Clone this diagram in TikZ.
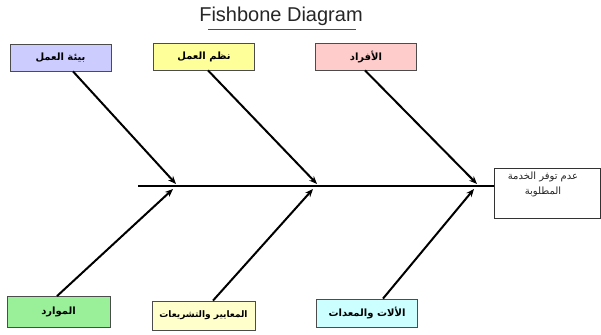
\documentclass[tikz,border=0pt]{standalone}
\usepackage{fontspec}
\setmainfont{Liberation Sans}
\newfontfamily\arabicfont[Script=Arabic]{DejaVu Sans}
\TeXXeTstate=1
\usetikzlibrary{arrows.meta, calc}

\definecolor{envfill}{RGB}{204,204,255}
\definecolor{methodfill}{RGB}{255,255,153}
\definecolor{peoplefill}{RGB}{255,204,204}
\definecolor{resourcefill}{RGB}{153,240,153}
\definecolor{standardfill}{RGB}{255,255,204}
\definecolor{machinefill}{RGB}{204,255,255}

\tikzset{
  causebox/.style={draw=black!70, line width=0.8pt, minimum width=101pt, minimum height=27pt, inner sep=0pt, font=\arabicfont\bfseries\fontsize{10}{12}\selectfont},
  bone/.style={->, line width=2pt},
}

\begin{document}
\begin{tikzpicture}[x=1pt, y=-1pt, >={Stealth[length=8pt, width=6.5pt]}]
  \useasboundingbox (0,0) rectangle (601,334);
  \node[font=\fontsize{20}{22}\selectfont, text=black!85, inner sep=0pt] (title) at (281,16) {Fishbone Diagram};
  \draw[black!70, line width=0.7pt] ($(title.south west)+(9,4)$) -- ($(title.south east)+(-7,4)$);
  % causes above and below the spine
  \node[causebox, fill=envfill] (environment) at (60.5,57.5) {\beginR بيئة العمل\endR};
  \node[causebox, fill=methodfill] (methods) at (204,56.5) {\beginR نظم العمل\endR};
  \node[causebox, fill=peoplefill] (people) at (366,56.5) {\beginR الأفراد\endR};
  \node[causebox, fill=resourcefill, minimum width=103pt, minimum height=31pt] (resources) at (58.5,312) {\beginR الموارد\endR};
  \node[causebox, fill=standardfill, minimum width=103pt, minimum height=29pt, font=\arabicfont\bfseries\fontsize{9}{11}\selectfont] (standards) at (203.5,315.5) {\beginR المعايير والتشريعات\endR};
  \node[causebox, fill=machinefill, minimum height=28pt] (machines) at (367,313) {\beginR الألات والمعدات\endR};
  % effect
  \node[draw=black!80, line width=0.8pt, minimum width=106pt, minimum height=50pt, inner sep=0pt] (problem) at (547,193) {};
  \node[font=\arabicfont\fontsize{10}{15}\selectfont, text=black!85, align=center, anchor=north] (problemtext) at ($(problem.north)+(-4,1)$) {\beginR عدم توفر الخدمة\endR\\\beginR المطلوبة\endR};
  % spine
  \coordinate (spinestart) at (138,186);
  \draw[line width=2.6pt] (spinestart) -- (spinestart -| problem.west);
  \coordinate (tipA) at (176,184);
  \coordinate (tipB) at (317,184);
  \coordinate (tipC) at (477,184);
  \coordinate (tipD) at (173,189);
  \coordinate (tipE) at (313,189);
  \coordinate (tipF) at (474,189);
  \draw[bone] ($(environment.south)+(12.5,0)$) -- (tipA);
  \draw[bone] ($(methods.south)+(4,0)$) -- (tipB);
  \draw[bone] ($(people.south)+(-1,0)$) -- (tipC);
  \draw[bone] ($(resources.north)+(-1.5,0)$) -- (tipD);
  \draw[bone] ($(standards.north)+(9.5,0)$) -- (tipE);
  \draw[bone] ($(machines.north)+(16,0)$) -- (tipF);
\end{tikzpicture}
\end{document}
